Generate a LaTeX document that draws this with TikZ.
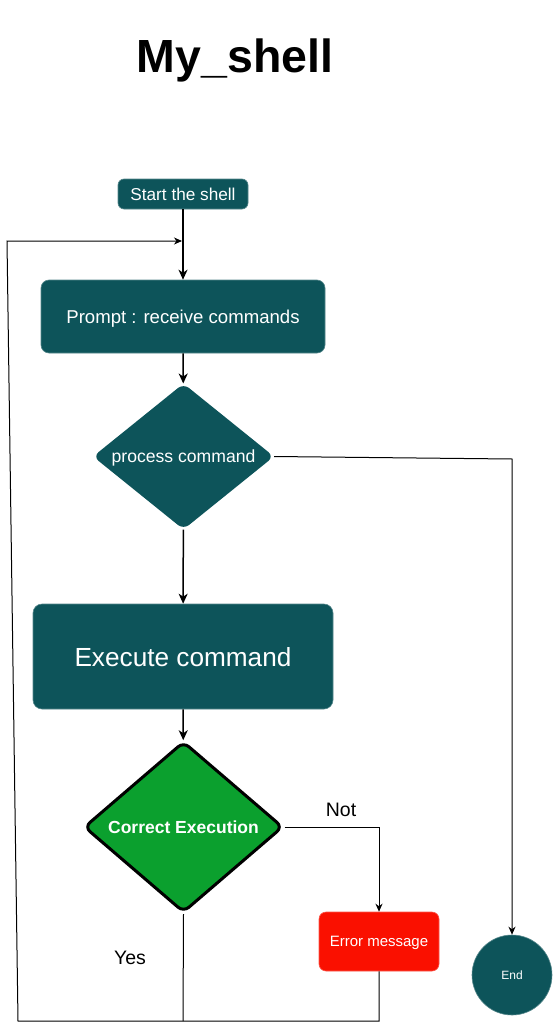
\documentclass[tikz,border=0pt]{standalone}
\usepackage{fontspec}
\setmainfont{Liberation Sans}
\usetikzlibrary{shapes.geometric,arrows.meta}
\definecolor{teal}{HTML}{0D545A}
\definecolor{okgreen}{HTML}{0BA02E}
\definecolor{errred}{HTML}{FA1000}
\tikzset{
  box/.style={fill=teal, draw=teal!70!white, line width=0.6, rounded corners=6, text=white, inner sep=0, align=center, text depth=0pt},
  dia/.style={diamond, inner sep=0, rounded corners=7, text=white, align=center, text depth=0pt},
  flow/.style={line width=1.5, -{Stealth[length=10,width=9,inset=3]}},
  thin/.style={line width=1, -{Stealth[length=8,width=7,inset=2.5]}},
  plain/.style={line width=1},
  lbl/.style={font=\fontsize{19.5}{22}\selectfont, inner sep=0}
}
\begin{document}
\begin{tikzpicture}[x=1pt,y=-1pt]
\fill[white] (0,0) rectangle (553,1030);
\useasboundingbox (0,0) rectangle (553,1030);

\node[font=\fontsize{46.5}{50}\selectfont\bfseries, inner sep=0] (title) at (235,60) {My\_shell};

\node[box, minimum width=130, minimum height=30, font=\fontsize{17.2}{19}\selectfont] (start) at (183,194) {Start the shell};
\node[box, minimum width=284, minimum height=73, rounded corners=8, font=\fontsize{18.6}{21}\selectfont] (prompt) at (183,316.5) {Prompt : receive commands};
\node[dia, fill=teal, aspect=1.241, minimum width=181, minimum height=146, font=\fontsize{17.6}{20}\selectfont] (pc) at (183.5,456.5) {process command};
\node[box, minimum width=300, minimum height=105, rounded corners=9, font=\fontsize{26.2}{29}\selectfont] (exec) at (183,656.5) {Execute command};
\node[dia, fill=okgreen, draw=black, line width=3, aspect=1.164, minimum width=199, minimum height=171, font=\fontsize{17.5}{20}\selectfont\bfseries] (ce) at (183.5,827) {Correct Execution};
\node[box, fill=errred, draw=errred!70!white, minimum width=120, minimum height=59, rounded corners=7, font=\fontsize{15}{17}\selectfont] (err) at (379,941.5) {Error message};
\node[circle, fill=teal, draw=teal!70!white, line width=0.6, minimum size=80, inner sep=0, text=white, text depth=0pt, font=\fontsize{12}{14}\selectfont] (endc) at (512,975) {End};

\node[lbl] (not) at (341,810) {Not};
\node[lbl] (yes) at (130,958) {Yes};

\coordinate (lj) at (182,241);
\coordinate (b0) at (7,241);
\coordinate (b1) at (18,1021);
\coordinate (b2) at (183,1021);
\coordinate (b3) at (379,1021);
\coordinate (c1) at (512,459);

\draw[flow] (start) -- (prompt);
\draw[flow] (prompt) -- (pc);
\draw[flow] (pc) -- (exec);
\draw[flow] (exec) -- (ce);
\draw[thin] (pc.east) -- (c1) -- (endc.north);
\draw[thin] (ce.east) -| (err.north);
\draw[plain] (ce.south) -- (b2);
\draw[thin] (err.south) -- (b3) -- (b1) -- (b0) -- (lj);
\end{tikzpicture}
\end{document}
